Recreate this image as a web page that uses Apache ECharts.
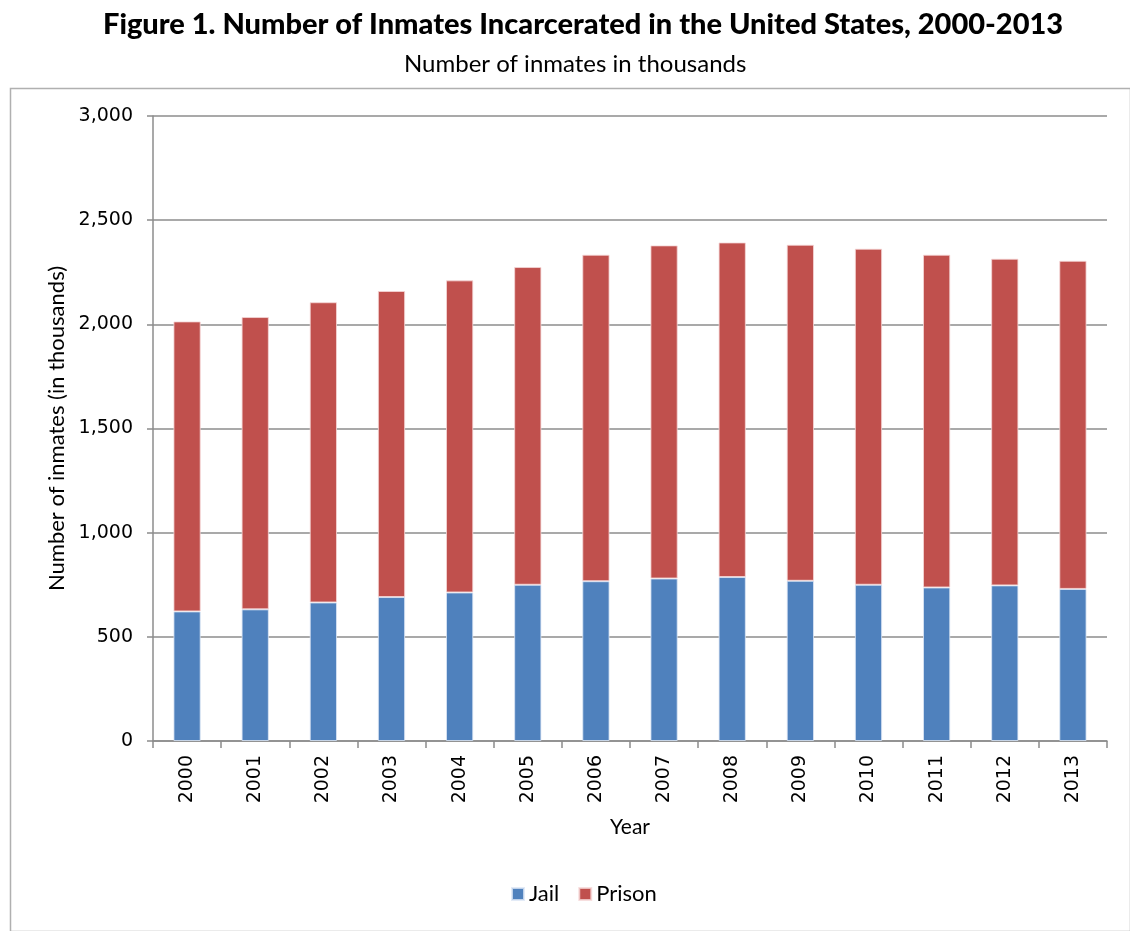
<!DOCTYPE html>
<html>
<head>
<meta charset="utf-8">
<script src="https://cdn.jsdelivr.net/npm/echarts@6/dist/echarts.min.js"></script>
<style>
html,body{margin:0;padding:0;background:#fff;}
#chart{width:1130px;height:931px;}
</style>
</head>
<body>
<div id="chart"></div>
<script>
var years = ['2000','2001','2002','2003','2004','2005','2006','2007','2008','2009','2010','2011','2012','2013'];
var jail = [622, 632, 665, 691, 713, 750, 767, 780, 787, 769, 750, 737, 747, 730];
var prison = [1392, 1403, 1441, 1469, 1498, 1525, 1567, 1599, 1606, 1613, 1613, 1597, 1568, 1575];
var yTicks = [0, 500, 1000, 1500, 2000, 2500, 3000];

var chart = echarts.init(document.getElementById('chart'), null, {renderer: 'canvas'});
var option = {
  backgroundColor: '#fff',
  animation: false,
  title: [
    {text: 'Figure 1. Number of Inmates Incarcerated in the United States, 2000-2013',
     left: 98, top: 5,
     textStyle: {fontFamily: 'Lato', fontWeight: 900, fontSize: 29, color: '#000'}},
    {text: 'Number of inmates in thousands', left: 399, top: 47,
     textStyle: {fontFamily: 'Lato', fontWeight: 'normal', fontSize: 24, color: '#000'}}
  ],
  graphic: [{
    type: 'rect', left: 8, top: 86,
    shape: {width: 1120, height: 843},
    style: {fill: 'none', stroke: '#b0b0b0', lineWidth: 1.5}
  }],
  legend: {
    bottom: 21, left: 506,
    data: ['Jail', 'Prison'],
    icon: 'rect', itemWidth: 12, itemHeight: 12, itemGap: 19,
    textStyle: {fontFamily: 'Lato', fontSize: 22, color: '#000'}
  },
  grid: {left: 153, right: 23, top: 116, bottom: 190},
  xAxis: {
    type: 'category', data: years,
    name: 'Year', nameLocation: 'middle', nameGap: 76,
    nameTextStyle: {fontFamily: 'Lato', fontSize: 21, color: '#000'},
    axisLine: {lineStyle: {color: '#8c8c8c', width: 1.5}},
    axisTick: {show: true, alignWithLabel: false, length: 7, lineStyle: {color: '#8c8c8c', width: 1.5}},
    axisLabel: {rotate: 90, margin: 14, fontFamily: 'DejaVu Sans', fontSize: 19, color: '#000'}
  },
  yAxis: {
    type: 'value', min: 0, max: 3000, interval: 500,
    name: 'Number of inmates (in thousands)', nameLocation: 'middle', nameGap: 84,
    nameTextStyle: {fontFamily: 'Lato', fontSize: 22, color: '#000'},
    axisLine: {show: true, lineStyle: {color: '#8c8c8c', width: 1.5}},
    axisTick: {show: true, length: 6, lineStyle: {color: '#8c8c8c', width: 1.5}},
    axisLabel: {margin: 20, fontFamily: 'DejaVu Sans', fontSize: 19, color: '#000',
      formatter: function (v) { return yTicks.indexOf(v) >= 0 ? v.toLocaleString('en-US') : ''; }},
    splitLine: {lineStyle: {color: '#8c8c8c', width: 1.5}}
  },
  series: [
    {name: 'Jail', type: 'bar', stack: 'total', data: jail, barWidth: '40%',
     itemStyle: {color: '#4F81BD', borderColor: 'rgba(220,230,245,0.8)', borderWidth: 1}},
    {name: 'Prison', type: 'bar', stack: 'total', data: prison, barWidth: '40%',
     itemStyle: {color: '#C0504D', borderColor: 'rgba(245,215,215,0.8)', borderWidth: 1}}
  ]
};
chart.setOption(option);
</script>
</body>
</html>
